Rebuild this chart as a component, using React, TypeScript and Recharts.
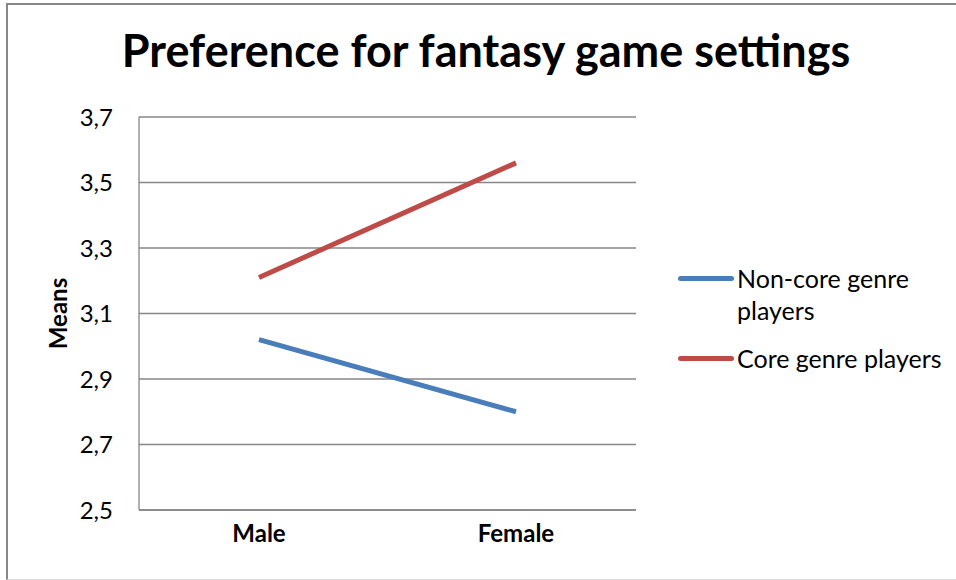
import { LineChart, Line, XAxis, YAxis, CartesianGrid } from "recharts";

const genders = ["Male", "Female"];
const nonCore = [3.02, 2.8];
const core = [3.21, 3.56];
const yTicks = [2.5, 2.7, 2.9, 3.1, 3.3, 3.5, 3.7];

const seriesInfo = [
  { key: "nonCore", name: "Non-core genre players", color: "#4A7EBB" },
  { key: "core", name: "Core genre players", color: "#BE4B48" },
];

const data = genders.map((g, i) => ({ gender: g, nonCore: nonCore[i], core: core[i] }));

const FONT = "Lato, 'Open Sans', sans-serif";
const GRID = "#868686";
const TXT = 24;

function fmt(v: number) {
  return v.toFixed(1).replace(".", ",");
}

// eslint-disable-next-line @typescript-eslint/no-explicit-any
function MeansLabel({ viewBox }: any) {
  const x = viewBox.x - 22;
  const y = viewBox.y + viewBox.height / 2;
  return (
    <text
      x={x}
      y={y}
      transform={`rotate(-90 ${x} ${y})`}
      textAnchor="middle"
      dominantBaseline="central"
      fontFamily={FONT}
      fontWeight={700}
      fontSize={TXT}
      fill="#000"
    >
      Means
    </text>
  );
}

function ChartLegend() {
  return (
    <ul style={{ listStyle: "none", margin: 0, padding: 0, fontFamily: FONT }}>
      {seriesInfo.map((s) => (
        <li key={s.key} style={{ display: "flex", alignItems: "flex-start", marginBottom: 16 }}>
          <span
            style={{
              width: 56,
              height: 5,
              borderRadius: 3,
              background: s.color,
              marginTop: 14,
              flexShrink: 0,
            }}
          />
          <span style={{ fontSize: 25, lineHeight: "32px", color: "#000", width: 215, paddingLeft: 3 }}>
            {s.name}
          </span>
        </li>
      ))}
    </ul>
  );
}

export default function App() {
  return (
    <div style={{ position: "absolute", left: 0, top: 0, width: 956, height: 580, background: "#fff", overflow: "hidden" }}>
      <div
        style={{
          position: "absolute",
          left: 6,
          top: 3,
          width: 956,
          height: 574,
          borderLeft: "2px solid #888",
          borderTop: "2px solid #888",
          borderBottom: "1px solid #ddd",
        }}
      />
      <div
        style={{
          position: "absolute",
          left: 0,
          top: 28,
          width: 972,
          textAlign: "center",
          fontFamily: FONT,
          fontWeight: 700,
          fontSize: 45,
          lineHeight: "45px",
          color: "#000",
        }}
      >
        Preference for fantasy game settings
      </div>
      <div style={{ position: "absolute", left: 0, top: 0 }}>
        <LineChart
          width={956}
          height={580}
          data={data}
          margin={{ top: 117, right: 320, bottom: 40, left: 79 }}
        >
          <CartesianGrid vertical={false} stroke={GRID} strokeWidth={1.3} />
          <XAxis
            dataKey="gender"
            height={30}
            padding={{ left: 120, right: 120 }}
            axisLine={{ stroke: GRID, strokeWidth: 1.3 }}
            tickLine={false}
            tickMargin={9}
            tick={{ fontFamily: FONT, fontWeight: 700, fontSize: TXT, fill: "#000" }}
          />
          <YAxis
            width={60}
            domain={[2.5, 3.7]}
            ticks={yTicks}
            tickFormatter={fmt}
            axisLine={{ stroke: GRID, strokeWidth: 1.3 }}
            tickLine={false}
            tickMargin={20}
            tick={{ fontFamily: FONT, fontSize: TXT, fill: "#000" }}
            label={<MeansLabel />}
          />
          {seriesInfo.map((s) => (
            <Line
              key={s.key}
              dataKey={s.key}
              name={s.name}
              stroke={s.color}
              strokeWidth={5}
              dot={false}
              isAnimationActive={false}
            />
          ))}
        </LineChart>
      </div>
      <div style={{ position: "absolute", left: 678, top: 262 }}>
        <ChartLegend />
      </div>
    </div>
  );
}
